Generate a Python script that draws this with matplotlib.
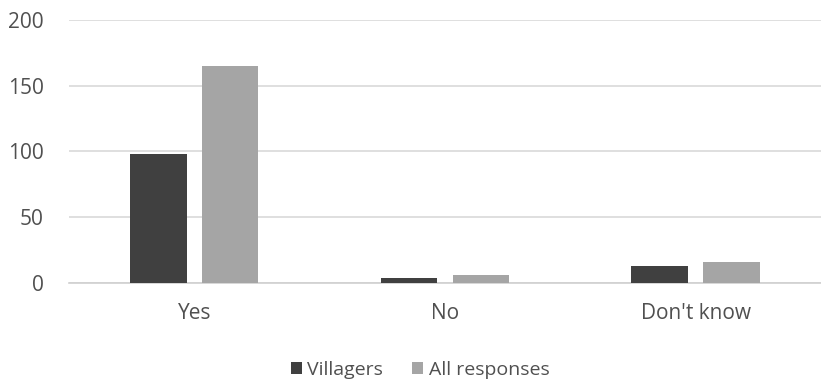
import matplotlib.pyplot as plt
import numpy as np

# Datos del gráfico
categorias = ['Yes', 'No', "Don't know"]
villagers = [98, 4, 13]
all_responses = [165, 6, 16]

plt.rcParams['font.family'] = ['Open Sans', 'DejaVu Sans']

fig = plt.figure(figsize=(8.21, 3.82), dpi=100)
ax = fig.add_axes([0.084, 0.259, 0.916, 0.689])

x = np.arange(len(categorias))
ancho = 0.226
ax.bar(x - 0.143, villagers, ancho, color='#404040', label='Villagers', zorder=3)
ax.bar(x + 0.143, all_responses, ancho, color='#a5a5a5', label='All responses', zorder=3)

ax.set_xlim(-0.5, 2.5)
ax.set_ylim(0, 200)
ax.set_yticks(range(0, 201, 50))
ax.set_xticks(x)
ax.set_xticklabels(categorias)
ax.grid(axis='y', color='#d9d9d9', linewidth=1.2, zorder=0)
for s in ['top', 'right', 'left']:
    ax.spines[s].set_visible(False)
ax.spines['bottom'].set_color('#d0d0d0')
ax.spines['bottom'].set_linewidth(1.2)
ax.tick_params(axis='both', length=0, labelsize=15, colors='#505050')
ax.tick_params(axis='x', pad=14)
ax.tick_params(axis='y', pad=18)

# Leyenda abajo al centro
fig.legend(loc='lower center', ncol=2, frameon=False, fontsize=14,
           labelcolor='#505050', handlelength=0.55, handleheight=0.55,
           handletextpad=0.3, columnspacing=1.5, bbox_to_anchor=(0.512, -0.037))

fig.savefig('out.png', dpi=100)
